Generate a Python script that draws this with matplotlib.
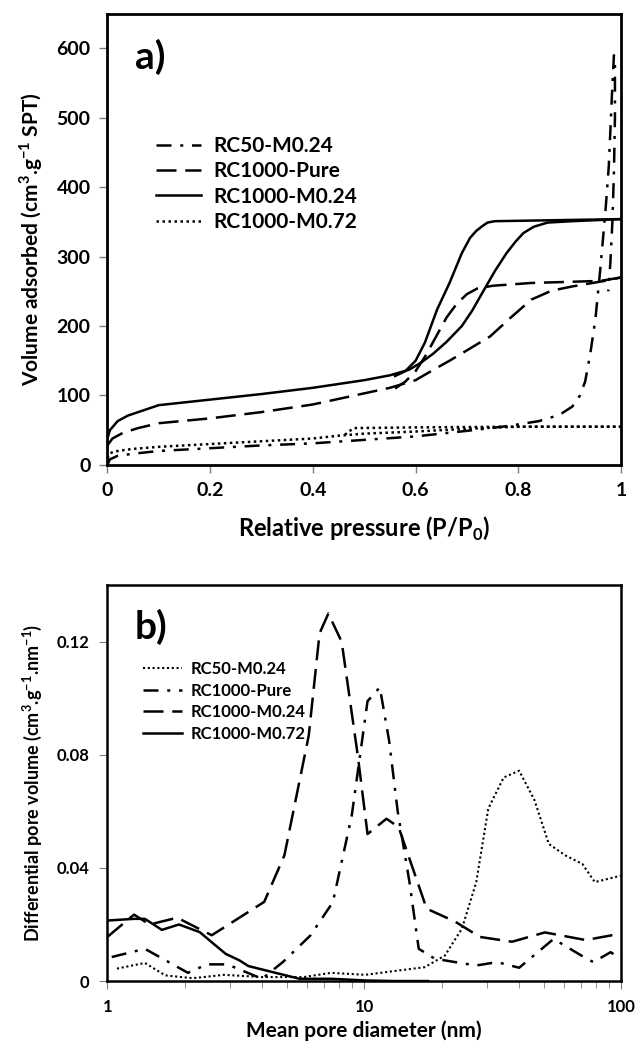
import numpy as np
import matplotlib
matplotlib.use("Agg")
import matplotlib.pyplot as plt

plt.rcParams['font.family'] = ['Lato', 'DejaVu Sans']
plt.rcParams['mathtext.fontset'] = 'custom'
plt.rcParams['mathtext.bf'] = 'Lato:bold'
plt.rcParams['mathtext.rm'] = 'Lato:bold'

# ---- panel a: isotherms (relative pressure, volume adsorbed) ----
rc50_x = [0.0, 0.005, 0.02, 0.05, 0.1, 0.2, 0.3, 0.4, 0.5, 0.6, 0.7, 0.78, 0.84, 0.88, 0.905,
          0.92, 0.93, 0.94, 0.95, 0.96, 0.97, 0.976, 0.982, 0.986, 0.988, 0.988, 0.986, 0.983, 0.979, 0.975]
rc50_y = [0, 8, 13, 16, 20, 24, 28, 31, 36, 41, 49, 56, 63, 72, 84,
          100, 120, 160, 210, 286, 370, 430, 530, 590, 580, 500, 420, 350, 290, 250]

pure_ads_x = [0.0, 0.01, 0.03, 0.06, 0.1, 0.2, 0.3, 0.4, 0.5, 0.55, 0.6, 0.63, 0.666, 0.7, 0.745,
              0.785, 0.825, 0.865, 0.905, 0.968, 1.0]
pure_ads_y = [28, 38, 46, 53, 60, 67, 76, 87, 103, 111, 122, 135, 150, 165, 185,
              212, 238, 251, 257, 265, 270]
pure_des_x = [1.0, 0.96, 0.825, 0.75, 0.72, 0.7, 0.68, 0.66, 0.64, 0.62, 0.6, 0.58, 0.56]
pure_des_y = [270, 265, 262, 258, 254, 246, 232, 212, 185, 158, 135, 120, 110]

m024_ads_x = [0.0, 0.005, 0.02, 0.04, 0.1, 0.2, 0.3, 0.4, 0.5, 0.55, 0.587, 0.61, 0.634, 0.66,
              0.69, 0.71, 0.73, 0.755, 0.777, 0.795, 0.81, 0.83, 0.857, 0.905, 1.0]
m024_ads_y = [38, 50, 63, 71, 86, 94, 102, 111, 122, 129, 137, 147, 160, 177, 200, 222, 248,
              280, 305, 322, 334, 343, 349, 351, 354]
m024_des_x = [1.0, 0.754, 0.74, 0.73, 0.718, 0.706, 0.69, 0.666, 0.642, 0.618, 0.6, 0.58, 0.56]
m024_des_y = [354, 351, 349, 344, 337, 327, 305, 262, 224, 176, 150, 135, 128]

m072_ads_x = [0.0, 0.005, 0.02, 0.05, 0.1, 0.2, 0.3, 0.4, 0.45, 0.5, 0.6, 0.7, 0.8, 0.9, 1.0]
m072_ads_y = [10, 17, 20, 23, 26, 30, 34, 38, 42, 45, 48, 52, 55, 55, 55]
m072_des_x = [1.0, 0.8, 0.6, 0.48, 0.47, 0.46]
m072_des_y = [55, 55, 54, 53, 48, 42]

# ---- panel b: pore size distributions (diameter nm, dV) ----
b_rc50_x = [1.09, 1.4, 1.68, 2.15, 2.85, 4.0, 5.8, 7.43, 10.1, 13.8, 17.2, 20.6, 24.0, 27.3,
            30.4, 34.9, 40.1, 46, 52.3, 60.8, 70.7, 79, 100]
b_rc50_y = [0.0044, 0.0064, 0.002, 0.001, 0.0022, 0.0014, 0.0014, 0.0029, 0.0022, 0.0038,
            0.0049, 0.009, 0.0185, 0.035, 0.061, 0.072, 0.0744, 0.064, 0.0485, 0.0444, 0.0414,
            0.035, 0.0373]

b_pure_x = [1.04, 1.4, 2.06, 2.44, 2.93, 4.0, 4.82, 6.17, 7.55, 8.94, 10.3, 11.5, 12.5, 13.5,
            15.0, 16.3, 18.8, 22.6, 27.3, 32.9, 40.1, 54.6, 73.4, 78, 91, 100]
b_pure_y = [0.0085, 0.0114, 0.0029, 0.0059, 0.0059, 0.0008, 0.0067, 0.0161, 0.0279, 0.0585,
            0.099, 0.1039, 0.085, 0.06, 0.035, 0.0114, 0.0079, 0.0067, 0.0055, 0.0067, 0.0047,
            0.0149, 0.0079, 0.0067, 0.0102, 0.0079]

b_m024_x = [1.0, 1.27, 1.46, 1.87, 2.55, 4.08, 4.89, 6.08, 6.7, 7.25, 8.17, 9.43, 10.3, 12.2,
            13.6, 17.5, 22.6, 28.2, 37.6, 50.5, 72.8, 100]
b_m024_y = [0.0156, 0.0235, 0.020, 0.0224, 0.0162, 0.028, 0.0445, 0.0868, 0.123, 0.130, 0.12,
            0.080, 0.052, 0.0574, 0.0545, 0.0256, 0.021, 0.0156, 0.0139, 0.0172, 0.0145, 0.0168]

b_m072_x = [1.0, 1.27, 1.4, 1.63, 1.9, 2.29, 2.59, 2.89, 3.27, 3.54, 4.38, 5.6, 7.43, 10.1, 13.0, 17.7]
b_m072_y = [0.0214, 0.022, 0.022, 0.0181, 0.020, 0.0173, 0.0132, 0.0096, 0.0073, 0.0053,
            0.0032, 0.0008, 0.0008, 0.0002, 0.0, 0.0]

fig = plt.figure(figsize=(6.39, 10.47), dpi=100)
tick_grey = '#808080'

# panel a
ax1 = fig.add_axes([0.168, 0.556, 0.804, 0.431])
lw = 1.8
dashdot = (0, (6, 3.5, 1.2, 3.5))
longdash = (0, (8, 3.5))
dotted = (0, (1, 1.4))
ax1.plot(rc50_x, rc50_y, color='black', lw=lw, linestyle=dashdot, label='RC50-M0.24')
ax1.plot(pure_ads_x, pure_ads_y, color='black', lw=lw, linestyle=longdash, label='RC1000-Pure')
ax1.plot(pure_des_x, pure_des_y, color='black', lw=lw, linestyle=longdash)
ax1.plot(m024_ads_x, m024_ads_y, color='black', lw=lw, linestyle='-', label='RC1000-M0.24')
ax1.plot(m024_des_x, m024_des_y, color='black', lw=lw, linestyle='-')
ax1.plot(m072_ads_x, m072_ads_y, color='black', lw=lw, linestyle=dotted, label='RC1000-M0.72')
ax1.plot(m072_des_x, m072_des_y, color='black', lw=lw, linestyle=dotted)

ax1.set_xlim(0, 1)
ax1.set_ylim(0, 650)
ax1.set_xticks([0, 0.2, 0.4, 0.6, 0.8, 1])
ax1.set_xticklabels(['0', '0.2', '0.4', '0.6', '0.8', '1'])
ax1.set_yticks([0, 100, 200, 300, 400, 500, 600])
ax1.tick_params(direction='out', length=6, width=1, color=tick_grey, labelsize=14, pad=6)
for lab in ax1.get_xticklabels() + ax1.get_yticklabels():
    lab.set_fontweight('bold')
for sp in ax1.spines.values():
    sp.set_linewidth(2)
ax1.set_xlabel('Relative pressure (P/P$_{\\mathbf{0}}$)', fontsize=17, fontweight='bold', labelpad=12)
ax1.set_ylabel('Volume adsorbed (cm$^{\\mathbf{3}}$.g$^{\\mathbf{-1}}$ SPT)', fontsize=15,
               fontweight='bold', labelpad=8)
ax1.text(0.054, 0.905, 'a)', transform=ax1.transAxes, fontsize=28, fontweight='bold', va='center')
ax1.legend(loc='upper left', bbox_to_anchor=(0.074, 0.752), frameon=False, borderpad=0,
           handlelength=2.15, handletextpad=0.6, labelspacing=0.26,
           prop={'size': 15, 'weight': 'bold'})

# panel b
ax2 = fig.add_axes([0.168, 0.063, 0.804, 0.378])
ax2.plot(b_rc50_x, b_rc50_y, color='black', lw=1.5, linestyle=(0, (1, 1.3)), label='RC50-M0.24')
ax2.plot(b_pure_x, b_pure_y, color='black', lw=1.8, linestyle=dashdot, label='RC1000-Pure')
ax2.plot(b_m024_x, b_m024_y, color='black', lw=1.8, linestyle=longdash, label='RC1000-M0.24')
ax2.plot(b_m072_x, b_m072_y, color='black', lw=1.8, linestyle='-', label='RC1000-M0.72')
ax2.set_xscale('log')
ax2.set_xlim(1, 100)
ax2.set_ylim(0, 0.14)
ax2.set_xticks([1, 10, 100])
ax2.set_xticklabels(['1', '10', '100'])
ax2.set_yticks([0, 0.04, 0.08, 0.12])
ax2.set_yticklabels(['0', '0.04', '0.08', '0.12'])
ax2.tick_params(which='both', direction='out', color=tick_grey, labelsize=12, pad=7)
ax2.tick_params(which='major', length=6)
ax2.tick_params(which='minor', length=5)
for lab in ax2.get_xticklabels() + ax2.get_yticklabels():
    lab.set_fontweight('bold')
for sp in ax2.spines.values():
    sp.set_linewidth(1.8)
ax2.set_xlabel('Mean pore diameter (nm)', fontsize=15, fontweight='bold', labelpad=4)
ax2.set_ylabel('Differential pore volume (cm$^{\\mathbf{3}}$.g$^{\\mathbf{-1}}$.nm$^{\\mathbf{-1}}$)',
               fontsize=13, fontweight='bold', labelpad=9)
ax2.text(0.054, 0.895, 'b)', transform=ax2.transAxes, fontsize=28, fontweight='bold', va='center')
ax2.legend(loc='upper left', bbox_to_anchor=(0.054, 0.829), frameon=False, borderpad=0,
           handlelength=2.3, handletextpad=0.55, labelspacing=0.33,
           prop={'size': 12, 'weight': 'bold'})

fig.savefig('out.png', dpi=100)
